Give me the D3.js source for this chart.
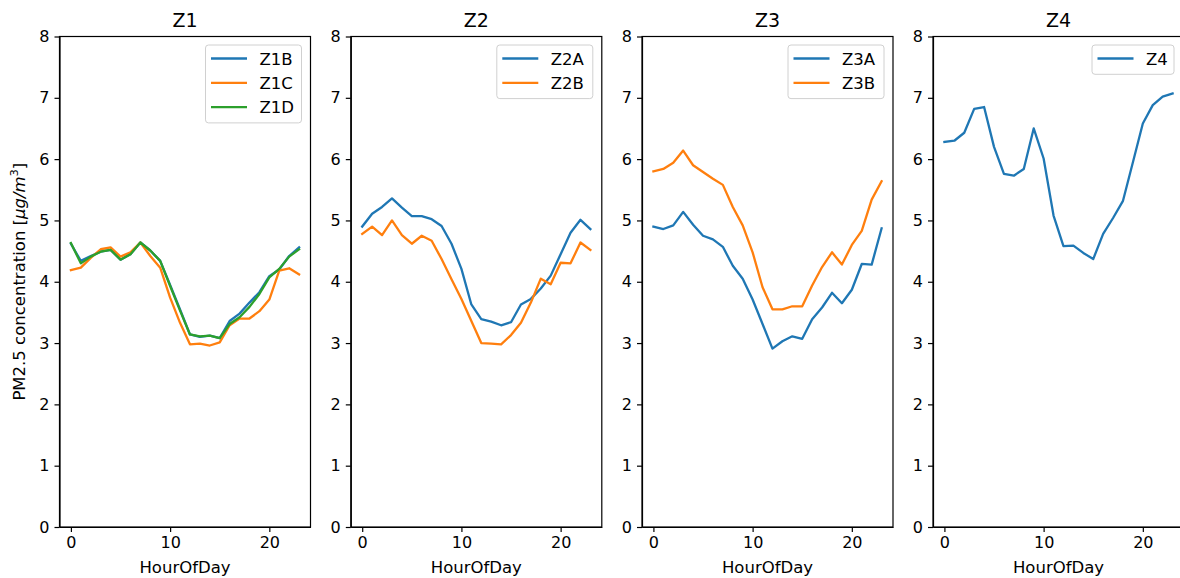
<!DOCTYPE html>
<html>
<head>
<meta charset="utf-8">
<script src="https://cdn.jsdelivr.net/npm/d3@7"></script>
<style>
  body { margin: 0; background: #fff; }
  text { font-family: "DejaVu Sans", sans-serif; fill: #000; }
  .axis path, .axis line { stroke: #000; stroke-width: 1.2; }
  .axis text { font-size: 16px; }
</style>
</head>
<body>
<svg width="1180" height="578"></svg>
<script>
// hours 0..23
const hours = d3.range(24);
const yTicks = [0, 1, 2, 3, 4, 5, 6, 7, 8];
const xTicks = [0, 10, 20];

const z1B = [4.62, 4.34, 4.42, 4.49, 4.52, 4.36, 4.45, 4.64, 4.51, 4.34, 3.95, 3.55, 3.14, 3.10, 3.12, 3.08, 3.36, 3.48, 3.66, 3.83, 4.09, 4.20, 4.42, 4.56];
const z1C = [4.19, 4.23, 4.39, 4.53, 4.56, 4.41, 4.48, 4.64, 4.42, 4.23, 3.74, 3.33, 2.98, 2.99, 2.96, 3.01, 3.29, 3.40, 3.40, 3.52, 3.71, 4.18, 4.22, 4.12];
const z1D = [4.63, 4.30, 4.41, 4.49, 4.52, 4.36, 4.45, 4.64, 4.51, 4.34, 3.93, 3.53, 3.14, 3.11, 3.12, 3.08, 3.31, 3.42, 3.59, 3.80, 4.07, 4.21, 4.41, 4.53];

const z2A = [4.90, 5.11, 5.22, 5.36, 5.21, 5.07, 5.07, 5.02, 4.91, 4.62, 4.21, 3.63, 3.39, 3.35, 3.29, 3.34, 3.63, 3.72, 3.89, 4.10, 4.45, 4.80, 5.01, 4.86];
const z2B = [4.78, 4.90, 4.76, 5.00, 4.76, 4.62, 4.75, 4.67, 4.37, 4.04, 3.72, 3.36, 3.00, 2.99, 2.98, 3.13, 3.33, 3.66, 4.05, 3.96, 4.31, 4.30, 4.64, 4.52];

const z3A = [4.90, 4.86, 4.92, 5.14, 4.93, 4.75, 4.69, 4.57, 4.26, 4.05, 3.71, 3.31, 2.91, 3.03, 3.11, 3.07, 3.39, 3.58, 3.82, 3.65, 3.87, 4.29, 4.28, 4.87];
const z3B = [5.80, 5.84, 5.94, 6.14, 5.90, 5.79, 5.68, 5.58, 5.22, 4.92, 4.48, 3.91, 3.55, 3.55, 3.60, 3.60, 3.94, 4.24, 4.48, 4.28, 4.60, 4.83, 5.34, 5.64];

const z4 = [6.28, 6.30, 6.43, 6.82, 6.85, 6.20, 5.76, 5.73, 5.84, 6.50, 6.01, 5.08, 4.58, 4.59, 4.47, 4.37, 4.78, 5.04, 5.32, 5.95, 6.58, 6.88, 7.02, 7.07];

const colors = ["#1f77b4", "#ff7f0e", "#2ca02c"];

const panels = [
  { title: "Z1", names: ["Z1B", "Z1C", "Z1D"], series: [z1B, z1C, z1D] },
  { title: "Z2", names: ["Z2A", "Z2B"], series: [z2A, z2B] },
  { title: "Z3", names: ["Z3A", "Z3B"], series: [z3A, z3B] },
  { title: "Z4", names: ["Z4"], series: [z4] }
];

const svg = d3.select("svg");
const plotTop = 36.5, plotBottom = 527, pw = 251;
const lefts = [59.5, 350.8, 642, 933];

const y = d3.scaleLinear().domain([0, 8]).range([plotBottom, plotTop]);

panels.forEach((p, i) => {
  const x0 = lefts[i];
  const x = d3.scaleLinear().domain([-1.15, 24.15]).range([x0, x0 + pw]);
  const g = svg.append("g");

  g.append("g").attr("class", "axis")
    .attr("transform", "translate(0," + plotBottom + ")")
    .call(d3.axisBottom(x).tickValues(xTicks).tickSize(5).tickPadding(5).tickSizeOuter(0));
  g.append("g").attr("class", "axis")
    .attr("transform", "translate(" + x0 + ",0)")
    .call(d3.axisLeft(y).tickValues(yTicks).tickSize(5).tickPadding(5).tickSizeOuter(0));

  // lines
  const line = d3.line().x((d, j) => x(hours[j])).y(d => y(d));
  p.series.forEach((s, k) => {
    g.append("path").datum(s)
      .attr("d", line)
      .attr("fill", "none")
      .attr("stroke", colors[k])
      .attr("stroke-width", 2.3)
      .attr("stroke-linejoin", "round")
      .attr("stroke-linecap", "square");
  });

  // frame
  g.append("rect")
    .attr("x", x0).attr("y", plotTop)
    .attr("width", pw).attr("height", plotBottom - plotTop)
    .attr("fill", "none").attr("stroke", "#000").attr("stroke-width", 1.2);

  g.append("text")
    .attr("x", x0 + pw / 2).attr("y", 26.5)
    .attr("text-anchor", "middle")
    .style("font-size", "19px")
    .text(p.title);

  g.append("text")
    .attr("x", x0 + pw / 2).attr("y", 573)
    .attr("text-anchor", "middle")
    .style("font-size", "16.5px")
    .text("HourOfDay");

  // legend
  const lw = p.names.length === 1 ? 82 : 96;
  const lh = 5 + p.names.length * 24.3;
  const lx = Math.min(x0 + pw - 9, 1174) - lw;
  const ly = 45;
  const leg = g.append("g");
  leg.append("rect")
    .attr("x", lx).attr("y", ly)
    .attr("width", lw).attr("height", lh)
    .attr("rx", 3)
    .attr("fill", "#fff").attr("fill-opacity", 0.8)
    .attr("stroke", "#d0d0d0").attr("stroke-width", 1);
  p.names.forEach((n, k) => {
    const cy = ly + 13.5 + k * 24.3;
    leg.append("line")
      .attr("x1", lx + 5.5).attr("x2", lx + 41.5)
      .attr("y1", cy).attr("y2", cy)
      .attr("stroke", colors[k]).attr("stroke-width", 2.3);
    leg.append("text")
      .attr("x", lx + 54).attr("y", cy + 6)
      .style("font-size", "16.5px")
      .text(n);
  });
});

// y label
const yl = svg.append("text")
  .attr("transform", "translate(25," + ((plotTop + plotBottom) / 2) + ") rotate(-90)")
  .attr("text-anchor", "middle")
  .style("font-size", "16.5px");
yl.append("tspan").text("PM2.5 concentration [");
yl.append("tspan").style("font-style", "italic").text("μg/m");
yl.append("tspan").attr("dy", -7).style("font-size", "11px").text("3");
yl.append("tspan").attr("dy", 7).text("]");
</script>
</body>
</html>
